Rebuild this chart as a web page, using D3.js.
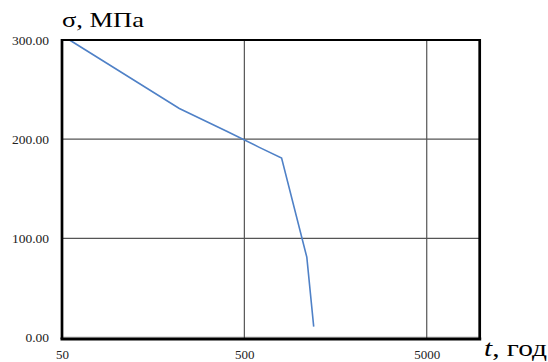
<!DOCTYPE html>
<html><head><meta charset="utf-8">
<script src="https://cdn.jsdelivr.net/npm/d3@7"></script>
<style>body{margin:0;background:#fff}svg{display:block}</style>
</head><body>
<svg id="c" width="548" height="362"></svg>
<script>
const tYears = [55, 220, 400, 600, 800, 1100, 1200];
const sigma = [300, 231, 208, 192, 181, 81, 11];
const xTicks = [50, 500, 5000];
const xTickLabels = ["50", "500", "5000"];
const yTicks = [0, 100, 200, 300];
const yTickLabels = ["0.00", "100.00", "200.00", "300.00"];

const svg = d3.select("#c");
const L = 62, R = 479.7, T = 40, B = 339;
const x = d3.scaleLog().domain([50, 9760]).range([L, R]);
const y = d3.scaleLinear().domain([0, 300]).range([337.5, 40]);
const serif = "'Liberation Serif','Times New Roman',serif";

// gridlines
svg.append("g").selectAll("line").data(yTicks.filter(d => d > 0 && d < 300)).join("line")
  .attr("x1", L).attr("x2", R).attr("y1", d => y(d)).attr("y2", d => y(d))
  .attr("stroke", "#555").attr("stroke-width", 1.2);
svg.append("line").attr("x1", L).attr("x2", R).attr("y1", y(0) - 0.5).attr("y2", y(0) - 0.5)
  .attr("stroke", "#c8c8c8").attr("stroke-width", 1);
svg.append("g").selectAll("line").data(xTicks.slice(1)).join("line")
  .attr("x1", d => x(d)).attr("x2", d => x(d)).attr("y1", T).attr("y2", B)
  .attr("stroke", "#555").attr("stroke-width", 1.2);

// data line
svg.append("path").datum(tYears.map((t, i) => [t, sigma[i]]))
  .attr("fill", "none").attr("stroke", "#4f81c7").attr("stroke-width", 1.6)
  .attr("d", d3.line().x(d => x(d[0])).y(d => y(d[1])));

// frame
svg.append("line").attr("x1", L - 1).attr("x2", R + 1).attr("y1", T).attr("y2", T).attr("stroke", "#000").attr("stroke-width", 2);
svg.append("line").attr("x1", L - 1.5).attr("x2", R + 1.5).attr("y1", B).attr("y2", B).attr("stroke", "#000").attr("stroke-width", 3);
svg.append("line").attr("x1", L).attr("x2", L).attr("y1", T - 1).attr("y2", B).attr("stroke", "#000").attr("stroke-width", 2.7);
svg.append("line").attr("x1", R).attr("x2", R).attr("y1", T - 1).attr("y2", B).attr("stroke", "#000").attr("stroke-width", 2.7);

// y labels
svg.append("g").selectAll("text").data(yTicks).join("text")
  .attr("x", 49).attr("y", d => y(d)).attr("dy", "0.35em")
  .attr("text-anchor", "end").attr("font-family", serif).attr("font-size", 13.5)
  .attr("fill", "#222")
  .text((d, i) => yTickLabels[i]);

// x labels
svg.append("g").selectAll("text").data(xTicks).join("text")
  .attr("x", d => x(d) + 0.5).attr("y", 358.5)
  .attr("text-anchor", "middle").attr("font-family", serif).attr("font-size", 13)
  .attr("fill", "#222")
  .text((d, i) => xTickLabels[i]);

// axis titles
svg.append("text").attr("x", 62).attr("y", 27).attr("font-family", serif).attr("font-size", 21)
  .attr("textLength", 82).attr("lengthAdjust", "spacingAndGlyphs").text("σ, МПа");
const xt = svg.append("text").attr("x", 484).attr("y", 356).attr("font-family", serif).attr("font-size", 23)
  .attr("textLength", 63).attr("lengthAdjust", "spacingAndGlyphs");
xt.append("tspan").attr("font-style", "italic").text("t");
xt.append("tspan").text(", год");
</script>
</body></html>
